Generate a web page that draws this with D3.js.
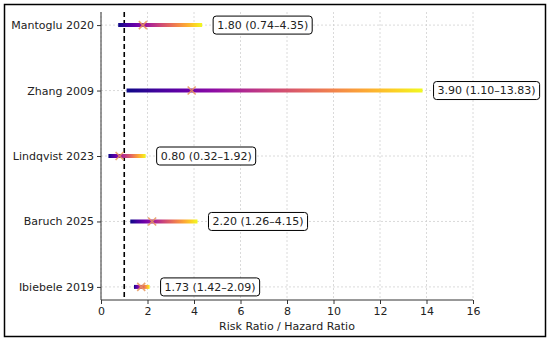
<!DOCTYPE html>
<html>
<head>
<meta charset="utf-8">
<script src="https://cdn.jsdelivr.net/npm/d3@7"></script>
<style>
  body { margin: 0; background: #fff; }
  svg text { font-family: "DejaVu Sans", sans-serif; }
</style>
</head>
<body>
<div class="chart"></div>
<script>
// studies listed bottom to top
var studies = ["Ibiebele 2019", "Baruch 2025", "Lindqvist 2023", "Zhang 2009", "Mantoglu 2020"];
var estimate = [1.73, 2.20, 0.80, 3.90, 1.80];
var lower = [1.42, 1.26, 0.32, 1.10, 0.74];
var upper = [2.09, 4.15, 1.92, 13.83, 4.35];
var xTicks = [0, 2, 4, 6, 8, 10, 12, 14, 16];

var W = 550, H = 342;
var margin = {top: 12, right: 77, bottom: 42, left: 101};
var width = W - margin.left - margin.right;
var height = H - margin.top - margin.bottom;
var fs = 11;

var svg = d3.select(".chart").append("svg")
	.attr("width", W)
	.attr("height", H);

// outer frame
svg.append("rect")
	.attr("x", 4.5).attr("y", 4.5)
	.attr("width", W - 9).attr("height", 332)
	.attr("fill", "none")
	.attr("stroke", "#000")
	.attr("stroke-width", 1.5);

var g = svg.append("g")
	.attr("transform", "translate(" + margin.left + "," + margin.top + ")");

var x = d3.scaleLinear().domain([0, 16]).range([0, width]);
var y = d3.scaleLinear().domain([-0.2, 4.2]).range([height, 0]);

var rows = studies.map(function (s, i) {
	return {name: s, i: i, est: estimate[i], lo: lower[i], hi: upper[i]};
});

// grid
g.append("g").selectAll("line.vg")
	.data(xTicks).enter().append("line")
	.attr("x1", function (d) { return x(d); })
	.attr("x2", function (d) { return x(d); })
	.attr("y1", 0).attr("y2", height)
	.attr("stroke", "#d0d0d0")
	.attr("stroke-width", 0.8)
	.attr("stroke-dasharray", "2,2");
g.append("g").selectAll("line.hg")
	.data(rows).enter().append("line")
	.attr("x1", 0).attr("x2", width)
	.attr("y1", function (d) { return y(d.i); })
	.attr("y2", function (d) { return y(d.i); })
	.attr("stroke", "#d0d0d0")
	.attr("stroke-width", 0.8)
	.attr("stroke-dasharray", "2,2");

// reference line at 1
g.append("line")
	.attr("x1", x(1)).attr("x2", x(1))
	.attr("y1", 0).attr("y2", height)
	.attr("stroke", "#000")
	.attr("stroke-width", 1.6)
	.attr("stroke-dasharray", "5,3");

// gradients for CI lines
var defs = svg.append("defs");
rows.forEach(function (d) {
	var grad = defs.append("linearGradient")
		.attr("id", "grad" + d.i)
		.attr("gradientUnits", "userSpaceOnUse")
		.attr("x1", x(d.lo)).attr("x2", x(d.hi))
		.attr("y1", 0).attr("y2", 0);
	d3.range(0, 1.0001, 0.1).forEach(function (t) {
		grad.append("stop")
			.attr("offset", t)
			.attr("stop-color", d3.interpolatePlasma(t));
	});
});

g.append("g").selectAll("line.ci")
	.data(rows).enter().append("line")
	.attr("x1", function (d) { return x(d.lo); })
	.attr("x2", function (d) { return x(d.hi); })
	.attr("y1", function (d) { return y(d.i); })
	.attr("y2", function (d) { return y(d.i); })
	.attr("stroke", function (d) { return "url(#grad" + d.i + ")"; })
	.attr("stroke-width", 4);

// point estimate markers
var sz = 4;
g.append("g").selectAll("path.mk")
	.data(rows).enter().append("path")
	.attr("d", function (d) {
		var cx = x(d.est), cy = y(d.i);
		return "M" + (cx - sz) + "," + (cy - sz) + "L" + (cx + sz) + "," + (cy + sz) +
			"M" + (cx - sz) + "," + (cy + sz) + "L" + (cx + sz) + "," + (cy - sz);
	})
	.attr("stroke", "#e8975a")
	.attr("stroke-opacity", 0.85)
	.attr("stroke-width", 1.6)
	.attr("fill", "none");

// annotation boxes
var fmt = d3.format(".2f");
var lab = g.append("g").selectAll("g.lab")
	.data(rows).enter().append("g")
	.attr("transform", function (d) { return "translate(" + (x(d.hi) + 11) + "," + y(d.i) + ")"; });
lab.append("text")
	.attr("x", 4)
	.attr("dy", "0.35em")
	.attr("font-size", fs)
	.attr("fill", "#222")
	.text(function (d) { return fmt(d.est) + " (" + fmt(d.lo) + "\u2013" + fmt(d.hi) + ")"; });
lab.each(function () {
	var t = d3.select(this).select("text");
	var bb = t.node().getBBox();
	d3.select(this).insert("rect", "text")
		.attr("x", 0).attr("y", -9)
		.attr("width", bb.width + 8).attr("height", 18)
		.attr("rx", 3)
		.attr("fill", "#fff")
		.attr("stroke", "#000")
		.attr("stroke-width", 1);
});

// axes
var xAxis = g.append("g")
	.attr("transform", "translate(0," + height + ")")
	.call(d3.axisBottom(x).tickValues(xTicks).tickSize(4).tickPadding(3));
var yAxis = g.append("g")
	.call(d3.axisLeft(y).tickValues(rows.map(function (d) { return d.i; }))
		.tickFormat(function (d) { return studies[d]; }).tickSize(4).tickPadding(3));
[xAxis, yAxis].forEach(function (a) {
	a.select(".domain").attr("stroke", "#333").attr("stroke-width", 1);
	a.selectAll(".tick line").attr("stroke", "#333");
	a.selectAll(".tick text").attr("font-size", fs).attr("fill", "#222")
		.style("font-family", "DejaVu Sans, sans-serif");
});
yAxis.select(".domain").attr("d", "M0," + height + "V0");
xAxis.select(".domain").attr("d", "M0,0H" + width);

g.append("text")
	.attr("x", width / 2)
	.attr("y", height + 30)
	.attr("text-anchor", "middle")
	.attr("font-size", fs)
	.attr("fill", "#222")
	.text("Risk Ratio / Hazard Ratio");
</script>
</body>
</html>
